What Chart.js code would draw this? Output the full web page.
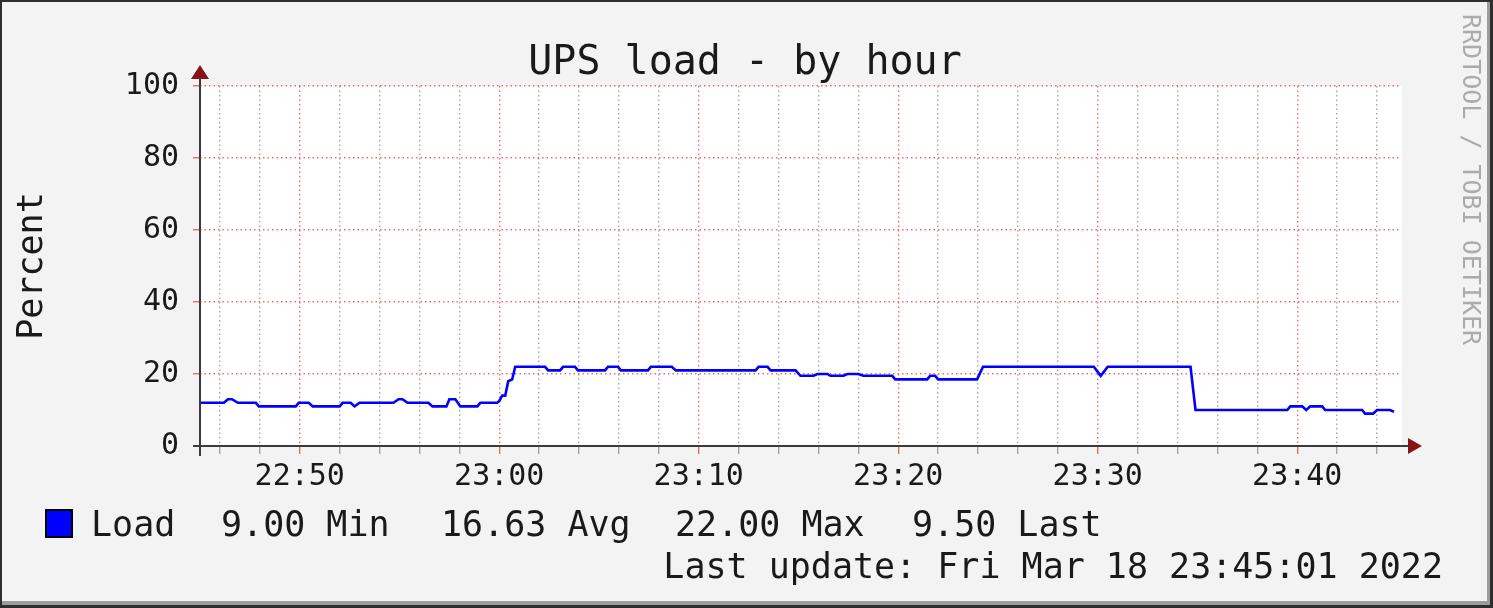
<!DOCTYPE html>
<html>
<head>
<meta charset="utf-8">
<script src="https://cdn.jsdelivr.net/npm/chart.js@4.4.1/dist/chart.umd.min.js"></script>
<style>
  html, body { margin: 0; padding: 0; background: #f3f3f3; }
  canvas { display: block; }
</style>
</head>
<body>
<canvas id="upsChart" width="1493" height="608"></canvas>
<script>
// minutes after 22:45:00
const loadMinutes = [0, 1.2, 1.4, 1.6, 1.9, 2.8, 2.95, 4.8, 4.95, 5.45, 5.65, 7.0, 7.15, 7.55, 7.75, 8.0,
  9.7, 9.95, 10.15, 10.4, 11.45, 11.65, 12.35, 12.5, 12.8, 13.05, 13.9, 14.05, 14.9, 15.0, 15.15, 15.3,
  15.45, 15.65, 15.8, 17.3, 17.45, 18.05, 18.2, 18.8, 18.95, 20.3, 20.45, 20.95, 21.1, 22.45, 22.6,
  23.65, 23.85, 27.85, 28.0, 28.45, 28.6, 29.85, 30.1, 30.75, 30.95, 31.45, 31.6, 32.25, 32.45, 33.0,
  33.25, 34.7, 34.85, 36.45, 36.6, 36.85, 37.0, 38.95, 39.25, 44.8, 45.15, 45.5, 49.65, 49.9, 54.5,
  54.65, 55.25, 55.45, 55.65, 56.25, 56.4, 58.25, 58.4, 58.8, 59.0, 59.65, 59.85];
const loadValues = [12, 12, 13, 13, 12, 12, 11, 11, 12, 12, 11, 11, 12, 12, 11, 12,
  12, 13, 13, 12, 12, 11, 11, 13, 13, 11, 11, 12, 12, 12.5, 14, 14,
  18, 18.5, 22, 22, 21, 21, 22, 22, 21, 21, 22, 22, 21, 21, 22,
  22, 21, 21, 22, 22, 21, 21, 19.5, 19.5, 20, 20, 19.5, 19.5, 20, 20,
  19.5, 19.5, 18.5, 18.5, 19.5, 19.5, 18.5, 18.5, 22, 22, 19.5, 22, 22, 10, 10,
  11, 11, 10, 11, 11, 10, 10, 9, 9, 10, 10, 9.5];

const xTickMinutes = [5, 15, 25, 35, 45, 55];
const xTickLabels = ['22:50', '23:00', '23:10', '23:20', '23:30', '23:40'];
const yTickLabels = ['0', '20', '40', '60', '80', '100'];

const chartTitle = 'UPS load - by hour';
const legendName = 'Load';
const legendStats = ['9.00 Min', '16.63 Avg', '22.00 Max', '9.50 Last'];
const lastUpdate = 'Last update: Fri Mar 18 23:45:01 2022';
const watermark = 'RRDTOOL / TOBI OETIKER';

const MONO = '"DejaVu Sans Mono", monospace';
const RED_GRID = 'rgba(235, 60, 60, 0.75)';
const GRAY_GRID = 'rgba(130, 130, 130, 0.7)';
const ARROW = '#861515';

// frame, white canvas, axes with arrows, title, legend and side texts
const rrdLook = {
    id: 'rrdLook',
    beforeDraw(chart) {
        const { ctx, chartArea: a, width, height } = chart;
        ctx.save();
        ctx.fillStyle = '#2e2e2e';
        ctx.fillRect(0, 0, width, height);
        ctx.fillStyle = '#9c9c9c';
        ctx.fillRect(2, 2, width - 5, height - 5);
        ctx.fillStyle = '#f3f3f3';
        ctx.fillRect(2, 2, width - 8, height - 9);
        ctx.fillStyle = '#ffffff';
        ctx.fillRect(a.left, a.top, a.right - a.left + 3, a.bottom - a.top);
        ctx.restore();
    },
    afterDraw(chart) {
        const { ctx, chartArea: a } = chart;
        ctx.save();
        // axes
        ctx.strokeStyle = '#3a3a3a';
        ctx.lineWidth = 2;
        ctx.beginPath();
        ctx.moveTo(a.left, a.bottom + 10);
        ctx.lineTo(a.left, a.top - 8);
        ctx.moveTo(a.left - 7, a.bottom);
        ctx.lineTo(a.right + 9, a.bottom);
        ctx.stroke();
        ctx.fillStyle = ARROW;
        ctx.beginPath();
        ctx.moveTo(a.left, a.top - 21);
        ctx.lineTo(a.left - 9, a.top - 7);
        ctx.lineTo(a.left + 9, a.top - 7);
        ctx.closePath();
        ctx.fill();
        ctx.beginPath();
        ctx.moveTo(a.right + 23, a.bottom);
        ctx.lineTo(a.right + 9, a.bottom - 8);
        ctx.lineTo(a.right + 9, a.bottom + 8);
        ctx.closePath();
        ctx.fill();

        // title
        ctx.fillStyle = '#1a1a1a';
        ctx.font = '40px ' + MONO;
        ctx.textAlign = 'center';
        ctx.textBaseline = 'alphabetic';
        ctx.fillText(chartTitle, 745, 74);

        // legend
        ctx.fillStyle = '#0000ff';
        ctx.fillRect(46, 510, 26, 27);
        ctx.strokeStyle = '#000';
        ctx.lineWidth = 2;
        ctx.strokeRect(46, 510, 26, 27);
        ctx.fillStyle = '#1a1a1a';
        ctx.font = '35px ' + MONO;
        ctx.textAlign = 'left';
        ctx.fillText(legendName, 91, 536);
        const statX = [221, 441, 675, 912];
        legendStats.forEach((s, i) => ctx.fillText(s, statX[i], 536));
        ctx.textAlign = 'right';
        ctx.fillText(lastUpdate, 1443, 578);

        // watermark
        ctx.fillStyle = '#ababab';
        ctx.font = '25px ' + MONO;
        ctx.textAlign = 'left';
        ctx.textBaseline = 'middle';
        ctx.translate(1469, 14);
        ctx.rotate(Math.PI / 2);
        ctx.fillText(watermark, 0, 0);
        ctx.restore();
    }
};

const upsChart = new Chart(document.getElementById('upsChart'), {
    type: 'line',
    data: {
        datasets: [{
            label: legendName,
            data: loadMinutes.map((m, i) => ({ x: m, y: loadValues[i] })),
            borderColor: '#0000ff',
            borderWidth: 2.6,
            pointRadius: 0,
            tension: 0,
            fill: false,
        }]
    },
    options: {
        responsive: false,
        animation: false,
        devicePixelRatio: 1,
        layout: { padding: { left: 0, right: 94, top: 86, bottom: 0 } },
        plugins: {
            legend: { display: false },
            tooltip: { enabled: false },
            title: { display: false }
        },
        scales: {
            x: {
                type: 'linear',
                min: 0,
                max: 60.1,
                afterBuildTicks: (scale) => {
                    const t = [];
                    for (let m = 1; m < 60; m += 2) t.push({ value: m });
                    scale.ticks = t;
                },
                afterFit: (scale) => { scale.height = 162; },
                border: { display: false, dash: [1.5, 3] },
                grid: {
                    color: (c) => xTickMinutes.includes(c.tick.value) ? RED_GRID : GRAY_GRID,
                    lineWidth: 1.4,
                    drawTicks: true,
                    tickLength: 8,
                    tickBorderDash: [],
                    tickColor: (c) => xTickMinutes.includes(c.tick.value) ? RED_GRID : GRAY_GRID,
                },
                ticks: {
                    autoSkip: false,
                    maxRotation: 0,
                    padding: 5,
                    color: '#1a1a1a',
                    font: { family: MONO, size: 30 },
                    callback: (v) => {
                        const i = xTickMinutes.indexOf(v);
                        return i >= 0 ? xTickLabels[i] : '';
                    }
                }
            },
            y: {
                min: 0,
                max: 100,
                afterFit: (scale) => { scale.width = 200; },
                border: { display: false, dash: [1.5, 3] },
                title: {
                    display: true,
                    text: 'Percent',
                    color: '#1a1a1a',
                    font: { family: MONO, size: 35, weight: 'normal', lineHeight: 1.2 },
                    padding: { top: 12, bottom: 0 }
                },
                grid: {
                    color: (c) => c.tick.value % 20 === 0 ? RED_GRID : GRAY_GRID,
                    lineWidth: 1.4,
                    tickLength: 7,
                    tickBorderDash: [],
                    tickColor: (c) => c.tick.value % 20 === 0 ? RED_GRID : GRAY_GRID,
                },
                ticks: {
                    stepSize: 10,
                    padding: 14,
                    color: '#1a1a1a',
                    font: { family: MONO, size: 30 },
                    callback: (v) => v % 20 === 0 ? yTickLabels[v / 20] : ''
                }
            }
        }
    },
    plugins: [rrdLook]
});
</script>
</body>
</html>
